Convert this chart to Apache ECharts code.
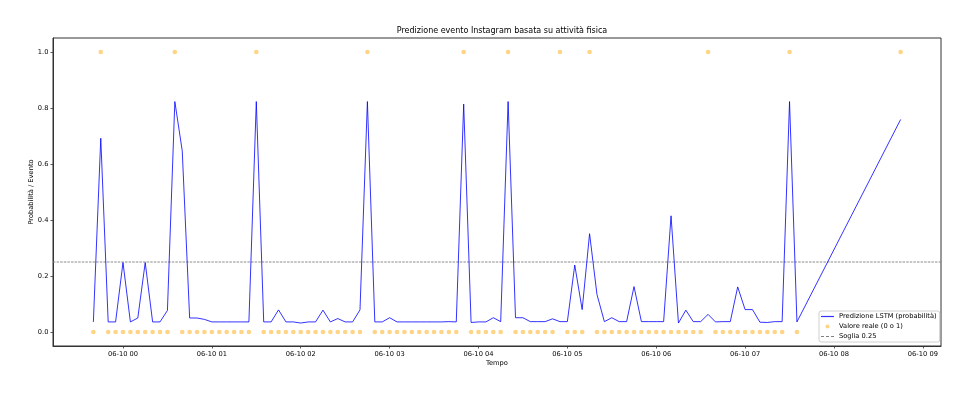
<!DOCTYPE html>
<html><head><meta charset="utf-8">
<script src="https://cdn.jsdelivr.net/npm/echarts@6/dist/echarts.min.js"></script>
<style>html,body{margin:0;padding:0;background:#fff}#c{width:963px;height:405px}</style>
</head><body><div id="c"></div>
<script>
const times = [
 '06-09 23:40','06-09 23:45','06-09 23:50','06-09 23:55',
 '06-10 00:00','06-10 00:05','06-10 00:10','06-10 00:15','06-10 00:20','06-10 00:25','06-10 00:30','06-10 00:35','06-10 00:40','06-10 00:45','06-10 00:50','06-10 00:55',
 '06-10 01:00','06-10 01:05','06-10 01:10','06-10 01:15','06-10 01:20','06-10 01:25','06-10 01:30','06-10 01:35','06-10 01:40','06-10 01:45','06-10 01:50','06-10 01:55',
 '06-10 02:00','06-10 02:05','06-10 02:10','06-10 02:15','06-10 02:20','06-10 02:25','06-10 02:30','06-10 02:35','06-10 02:40','06-10 02:45','06-10 02:50','06-10 02:55',
 '06-10 03:00','06-10 03:05','06-10 03:10','06-10 03:15','06-10 03:20','06-10 03:25','06-10 03:30','06-10 03:35','06-10 03:40','06-10 03:45','06-10 03:50','06-10 03:55',
 '06-10 04:00','06-10 04:05','06-10 04:10','06-10 04:15','06-10 04:20','06-10 04:25','06-10 04:30','06-10 04:35','06-10 04:40','06-10 04:45','06-10 04:50','06-10 04:55',
 '06-10 05:00','06-10 05:05','06-10 05:10','06-10 05:15','06-10 05:20','06-10 05:25','06-10 05:30','06-10 05:35','06-10 05:40','06-10 05:45','06-10 05:50','06-10 05:55',
 '06-10 06:00','06-10 06:05','06-10 06:10','06-10 06:15','06-10 06:20','06-10 06:25','06-10 06:30','06-10 06:35','06-10 06:40','06-10 06:45','06-10 06:50','06-10 06:55',
 '06-10 07:00','06-10 07:05','06-10 07:10','06-10 07:15','06-10 07:20','06-10 07:25','06-10 07:30','06-10 07:35',
 '06-10 08:45'
];
const prob = [
 0.036,0.692,0.036,0.036,0.248,0.036,0.050,0.248,0.036,0.036,
 0.077,0.823,0.647,0.050,0.050,0.045,0.036,0.036,0.036,0.036,
 0.036,0.036,0.823,0.036,0.036,0.079,0.036,0.036,0.032,0.036,
 0.036,0.078,0.036,0.048,0.036,0.036,0.079,0.823,0.036,0.036,
 0.051,0.036,0.036,0.036,0.036,0.036,0.036,0.036,0.037,0.036,
 0.814,0.034,0.036,0.036,0.051,0.037,0.823,0.051,0.051,0.037,
 0.037,0.037,0.047,0.037,0.037,0.239,0.080,0.351,0.134,0.037,
 0.051,0.037,0.037,0.162,0.037,0.037,0.037,0.037,0.415,0.032,
 0.078,0.037,0.037,0.063,0.036,0.037,0.037,0.161,0.080,0.080,
 0.035,0.034,0.037,0.037,0.823,0.036,0.759
];
const actual = [
 0,1,0,0,0,0,0,0,0,0,
 0,1,0,0,0,0,0,0,0,0,
 0,0,1,0,0,0,0,0,0,0,
 0,0,0,0,0,0,0,1,0,0,
 0,0,0,0,0,0,0,0,0,0,
 1,0,0,0,0,0,1,0,0,0,
 0,0,0,1,0,0,0,1,0,0,
 0,0,0,0,0,0,0,0,0,0,
 0,0,0,1,0,0,0,0,0,0,
 0,0,0,0,1,0,1
];
const xTickLabels = ['06-10 00','06-10 01','06-10 02','06-10 03','06-10 04','06-10 05','06-10 06','06-10 07','06-10 08','06-10 09'];
const yTicks = [0.0, 0.2, 0.4, 0.6, 0.8, 1.0];
const threshold = 0.25;
const seriesNames = ['Predizione LSTM (probabilità)', 'Valore reale (0 o 1)', 'Soglia 0.25'];
const titleText = 'Predizione evento Instagram basata su attività fisica';

const YEAR = 2025;
function parseT(s){
  const m = s.match(/(\d+)-(\d+) (\d+)(?::(\d+))?/);
  return new Date(YEAR, +m[1]-1, +m[2], +m[3], +(m[4]||0)).getTime();
}
function pad(n){ return (n<10?'0':'')+n; }
const tVals = times.map(parseT);
const xTickVals = xTickLabels.map(parseT);
const t0 = tVals[0], t1 = tVals[tVals.length-1];
const xMin = t0 - 0.05*(t1-t0), xMax = t1 + 0.05*(t1-t0);
const FF = 'DejaVu Sans';

const ICON_LINE = 'path://M0,0M13,4M0,1.4L13,1.4L13,2.6L0,2.6Z';
const ICON_DASH = 'path://M0,0M13,4M0,1.5h3v1h-3zM5,1.5h3v1h-3zM10,1.5h3v1h-3z';

const chart = echarts.init(document.getElementById('c'), null, {renderer:'canvas'});
chart.setOption({
  animation:false,
  backgroundColor:'#fff',
  title:{text:titleText, left:497, top:22, textAlign:'center',
    textStyle:{fontFamily:FF, fontSize:8, fontWeight:'normal', color:'#000'}},
  grid:{left:53, right:22, top:38, bottom:59, show:true, borderColor:'#333', borderWidth:1, backgroundColor:'transparent'},
  legend:{
    orient:'vertical', left:819, top:311, itemWidth:13, itemHeight:4, itemGap:3,
    padding:[2,3,2,2], borderColor:'#d0d0d0', borderWidth:1, borderRadius:2, backgroundColor:'rgba(255,255,255,0.8)',
    textStyle:{fontFamily:FF, fontSize:6.7, color:'#000', lineHeight:7},
    data:[{name:seriesNames[0], icon:ICON_LINE},{name:seriesNames[1], icon:'circle'},{name:seriesNames[2], icon:ICON_DASH}]
  },
  xAxis:{
    type:'value', min:xMin, max:xMax,
    axisLine:{show:true, onZero:false, lineStyle:{color:'#333', width:1}},
    axisTick:{show:true, length:2.5, customValues:xTickVals, lineStyle:{color:'#333', width:0.8}},
    axisLabel:{customValues:xTickVals, fontFamily:FF, fontSize:6.7, color:'#000', margin:4.5,
      formatter:function(v){ const d=new Date(v); return pad(d.getMonth()+1)+'-'+pad(d.getDate())+' '+pad(d.getHours()); }},
    splitLine:{show:false},
    name:'Tempo', nameLocation:'middle', nameGap:14, nameMoveOverlap:false,
    nameTextStyle:{fontFamily:FF, fontSize:6.7, color:'#000'}
  },
  yAxis:{
    type:'value', min:-0.05, max:1.05,
    axisLine:{show:true, onZero:false, lineStyle:{color:'#333', width:1}},
    axisTick:{show:true, length:2.5, customValues:yTicks, lineStyle:{color:'#333', width:0.8}},
    axisLabel:{customValues:yTicks, fontFamily:FF, fontSize:6.7, color:'#000', margin:4.5,
      formatter:function(v){ return (+v).toFixed(1); }},
    splitLine:{show:false},
    name:'Probabilità / Evento', nameLocation:'middle', nameGap:18, nameMoveOverlap:false,
    nameTextStyle:{fontFamily:FF, fontSize:6.7, color:'#000'}
  },
  series:[
    {name:seriesNames[0], type:'line', symbol:'none', z:2,
      data:tVals.map((t,i)=>[t, prob[i]]),
      lineStyle:{color:'rgba(0,0,255,0.8)', width:1},
      itemStyle:{color:'rgba(0,0,255,0.8)'}},
    {name:seriesNames[1], type:'scatter', symbol:'circle', symbolSize:4.6, symbolKeepAspect:true, z:3,
      data:tVals.map((t,i)=>[t, actual[i]]),
      itemStyle:{color:'rgba(255,165,0,0.6)'}},
    {name:seriesNames[2], type:'line', symbol:'none', z:1,
      data:[[xMin, threshold],[xMax, threshold]],
      lineStyle:{color:'#808080', width:0.9, type:[2.5,1.1]},
      itemStyle:{color:'#808080'}}
  ]
});
</script>
</body></html>
